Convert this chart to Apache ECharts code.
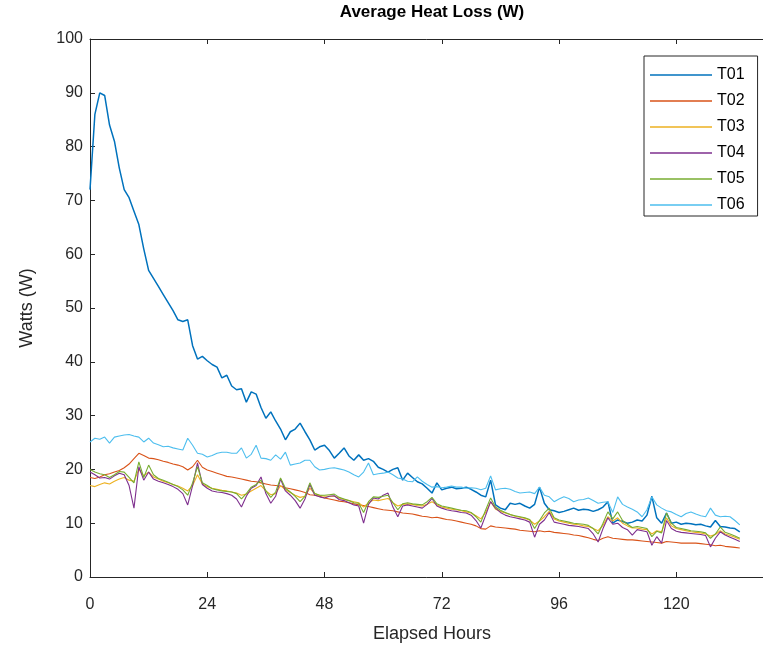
<!DOCTYPE html>
<html>
<head>
<meta charset="utf-8">
<script src="https://cdn.jsdelivr.net/npm/echarts@6/dist/echarts.min.js"></script>
<style>
html,body{margin:0;padding:0;background:#fff;}
#chart{width:763px;height:646px;}
</style>
</head>
<body>
<div id="chart"></div>
<script>
const hours = [0,1,2,3,4,5,6,7,8,9,10,11,12,13,14,15,16,17,18,19,20,21,22,23,24,25,26,27,28,29,30,31,32,33,34,35,36,37,38,39,40,41,42,43,44,45,46,47,48,49,50,51,52,53,54,55,56,57,58,59,60,61,62,63,64,65,66,67,68,69,70,71,72,73,74,75,76,77,78,79,80,81,82,83,84,85,86,87,88,89,90,91,92,93,94,95,96,97,98,99,100,101,102,103,104,105,106,107,108,109,110,111,112,113,114,115,116,117,118,119,120,121,122,123,124,125,126,127,128,129,130,131,132,133];

const seriesNames = ['T01','T02','T03','T04','T05','T06'];

const T01 = [72,86,90,89.5,84,81,76,72,70.5,68,65.5,61,57,55.5,54,52.5,51,49.5,47.8,47.5,47.8,43,40.5,41,40.2,39.5,39,37,37.5,35.5,34.8,35,32.5,34.4,34,31.5,29.5,30.7,29,27.5,25.5,27,27.5,28.6,27,25.5,23.6,24.2,24.5,23.5,22.1,23,24,22.5,21.7,22.7,21.7,22,21.5,20.4,20,19.5,20,20.3,18,19.3,18.5,17.7,17.3,16.5,15.6,17.5,16.2,16.5,16.7,16.4,16.5,16.7,16.3,15.8,15.2,14.9,18,13.4,12.8,12.5,13.7,13.5,13.7,13.2,12.8,13.5,16.7,13.7,12.5,12.3,12,12.2,12.5,12.8,12.4,12.6,12.5,12.2,12.5,13,14,10,10.6,10.3,10,10.2,10.6,10.4,11.5,15,11,10,11.9,10,10.2,9.8,10,9.9,9.7,9.8,9.5,9.3,10.5,9.4,9.3,9.1,9,8.4];

const T02 = [18.5,18.3,18.6,19,19.2,19.5,19.8,20.3,21,22,23,22.6,22.1,22,21.8,21.5,21.3,21,20.8,20.5,19.9,20.5,21.7,20.4,19.9,19.6,19.3,19,18.7,18.6,18.4,18.2,18,17.8,17.7,17.5,17.3,17.1,17,16.9,16.6,16.4,16.2,16,15.7,15.3,15.2,15,14.7,14.5,14.3,14.1,14,13.8,13.6,13.4,13.3,13.1,12.9,12.7,12.5,12.4,12.3,12.1,11.9,11.8,11.7,11.5,11.3,11.2,11,11.1,10.9,10.7,10.6,10.4,10.2,10,9.8,9.5,9,8.9,9.5,9.3,9.2,9.1,9,8.9,8.7,8.6,8.5,8.4,8.6,8.4,8.5,8.3,8.2,8.1,8,7.8,7.7,7.5,7.3,7,6.8,7.2,7.5,7.2,7.1,7,6.9,6.9,6.8,6.7,6.6,6.5,6.4,6.3,6.6,6.5,6.4,6.3,6.3,6.3,6.3,6.2,6.1,6,5.8,5.9,5.7,5.6,5.5,5.4];

const T03 = [17,16.8,17.2,17.5,17.3,17.8,18.2,18.5,18,17.8,20,18.8,19.5,18.6,18.2,17.8,17.5,17.2,16.9,16.5,16,17,19,17.3,16.8,16.5,16.3,16.1,16,15.8,15.6,15.2,15.4,16,16.5,17,16,15.3,15.5,17,16.2,15.7,15.2,14.8,15,16.5,15.5,15.2,15,15,15,14.7,14.4,14.2,14,13.8,13,13.8,14.3,14.2,14.4,14.6,13.8,13.2,13.5,13.6,13.5,13.3,13.2,13.5,14,13.4,13,12.8,12.6,12.5,12.3,12.1,11.9,11.4,10.8,12,14,12.6,12.2,11.9,11.6,11.3,11.1,10.9,10.6,9.8,10.4,11.2,12.2,10.8,10.4,10.2,10,9.8,9.7,9.5,9.4,9,8.6,9.6,11.2,10.4,11,10,9.5,9.1,9.1,8.9,8.8,8,8.6,8.4,11,9.5,9,8.8,8.6,8.4,8.3,8.2,8,7.6,7.9,8.6,8,7.7,7.4,7];

const T04 = [19.5,19,18.4,18.5,18.2,18.8,19.3,19,17,12.8,20.5,18,19.5,18.2,17.8,17.5,17.2,16.8,16.3,15.5,13.4,17,21.2,17.2,16.5,16,15.8,15.7,15.5,15.2,14.5,13,15,16.5,17,18.6,15.5,13.7,15,18.2,16,15.2,14.2,12.8,14.5,17.2,15.2,14.9,14.7,15,15.1,14.4,14.2,13.8,13.4,13.2,10,13.5,14.7,14.5,15.2,15.6,13,11.2,13.2,13.4,13.2,13,12.8,13.5,14.6,13.2,12.8,12.5,12.3,12.2,12,11.9,11.5,10.5,9.1,11.5,14,12.8,12,11.5,11.2,11,10.8,10.6,10.2,7.4,9.8,10.6,12,10.2,10,9.8,9.6,9.5,9.4,9.2,9,8,6.5,9,11,9.8,10,9.2,8.8,7.8,8.8,8.6,8.4,5.9,7.5,6.3,10.5,9,8.5,8.3,8.2,8.1,8,7.9,7.7,5.6,7.2,8.4,7.8,7.4,7,6.6];

const T05 = [20,19.5,19.2,19,18.5,19,19.6,19.5,18.5,17.5,21.4,18.5,20.8,19,18.3,18,17.6,17.2,16.8,16.2,15.2,17.5,20.5,17.5,17,16.4,16.2,16,15.9,15.8,15.5,14.5,15.5,16.7,17.2,18,16,14.8,15.8,18.4,16.5,15.8,15,14,15,17.5,15.5,15.2,15.2,15.3,15.4,14.8,14.5,14.2,13.8,13.7,12,14,14.9,14.8,15,15.2,13.8,12.5,13.6,13.8,13.6,13.5,13.4,14,14.8,13.6,13.2,13,12.8,12.6,12.4,12.3,12,11.2,10.2,12.5,14.7,13,12.4,12,11.6,11.4,11.2,11,10.7,9,10.5,11.9,12.8,11,10.6,10.4,10.2,10,9.9,9.8,9.6,9,8,10,12.1,10.8,12.1,10.5,9.8,9.2,9.4,9.2,9,7.5,8.5,8.2,11.9,10,9.2,9,8.8,8.6,8.5,8.4,8.2,7.2,8,9.3,8.3,8,7.6,7.2];

const T06 = [25.1,25.8,25.6,26,24.9,26,26.2,26.4,26.5,26.2,26,25.1,25.8,24.9,24.6,24.2,24.3,24,23.8,23.6,25.8,24.5,23,22.8,22.3,22.6,23,23.2,23.2,23,23,24,22.1,22.8,24.5,22.1,22,21.7,22.7,21.9,23.2,20.8,21,21.2,21.7,21.7,20.5,19.9,20,20.2,20.3,20.1,19.9,19.5,19,18.6,19.5,21.2,19,19.2,19.3,19.5,19,18.4,18.2,17.8,17.7,18.6,17.8,17.2,16.7,16.8,16.6,16.7,16.9,16.7,16.7,16.5,16.6,16.5,16.2,16.5,18.8,16.2,16.4,16.5,16.3,15.9,15.6,15.7,15.8,15.5,16.7,15.2,14.9,14,14.5,14.9,14.6,14,14.3,14.4,14.7,14.2,13.7,13.9,14,12,14.9,13.5,13,12.6,12.1,11.2,12.5,14.9,13.4,12.8,12.3,12.1,11.6,11.2,11.8,12.1,11.7,11.4,11.2,12.8,11.5,11.2,11.3,11.2,10.5,9.7];

const yTicks = [0,10,20,30,40,50,60,70,80,90,100];
const xTicks = [0,24,48,72,96,120];

const colors = ['#0072BD','#D95319','#EDB120','#7E2F8E','#77AC30','#4DBEEE'];
const allValues = [T01, T02, T03, T04, T05, T06];

const axisColor = '#262626';
const font = '"Liberation Sans", Arial, Helvetica, sans-serif';

const chart = echarts.init(document.getElementById('chart'), null, {renderer: 'canvas'});

const series = seriesNames.map((name, i) => ({
  name: name,
  type: 'line',
  xAxisIndex: 0,
  yAxisIndex: 0,
  symbol: 'none',
  showSymbol: false,
  smooth: false,
  animation: false,
  lineStyle: {color: colors[i], width: i === 0 ? 1.5 : 1.1},
  itemStyle: {color: colors[i]},
  data: hours.map((h, k) => [h, allValues[i][k]])
}));

const option = {
  backgroundColor: '#ffffff',
  animation: false,
  title: {
    text: 'Average Heat Loss (W)',
    left: 432,
    top: 4,
    padding: 0,
    textAlign: 'center',
    textStyle: {fontFamily: font, fontSize: 17, fontWeight: 'bold', color: '#000'}
  },
  legend: {
    data: seriesNames,
    orient: 'vertical',
    left: 644,
    top: 56,
    padding: [11, 13, 3, 6],
    icon: 'rect',
    itemWidth: 62,
    itemHeight: 1.3,
    itemGap: 10,
    borderColor: axisColor,
    borderWidth: 1,
    borderRadius: 0,
    backgroundColor: '#fff',
    textStyle: {fontFamily: font, fontSize: 16, lineHeight: 16, color: '#000'}
  },
  grid: {left: 90, top: 39, width: 684, bottom: 69, containLabel: false, outerBoundsMode: 'none'},
  xAxis: [{
    type: 'value',
    min: 0,
    max: 140,
    interval: 24,
    position: 'bottom',
    name: 'Elapsed Hours',
    nameLocation: 'middle',
    nameGap: 48,
    nameTextStyle: {fontFamily: font, fontSize: 18, color: '#262626'},
    axisLine: {show: true, onZero: false, lineStyle: {color: axisColor, width: 1}},
    axisTick: {show: true, inside: true, length: 5, lineStyle: {color: axisColor}},
    axisLabel: {show: true, margin: 20, fontFamily: font, fontSize: 16, color: '#262626',
      formatter: v => (xTicks.indexOf(v) >= 0 ? String(v) : '')},
    splitLine: {show: false}
  }, {
    type: 'value',
    min: 0,
    max: 140,
    interval: 24,
    position: 'top',
    axisLine: {show: true, onZero: false, lineStyle: {color: axisColor, width: 1}},
    axisTick: {show: true, inside: true, length: 5, lineStyle: {color: axisColor}},
    axisLabel: {show: false},
    splitLine: {show: false}
  }],
  yAxis: [{
    type: 'value',
    min: 0,
    max: 100,
    interval: 10,
    position: 'left',
    name: 'Watts (W)',
    nameLocation: 'middle',
    nameGap: 54,
    nameTextStyle: {fontFamily: font, fontSize: 18, color: '#262626'},
    axisLine: {show: true, onZero: false, lineStyle: {color: axisColor, width: 1}},
    axisTick: {show: true, inside: true, length: 5, lineStyle: {color: axisColor}},
    axisLabel: {show: true, margin: 7, fontFamily: font, fontSize: 16, color: '#262626',
      formatter: v => (yTicks.indexOf(v) >= 0 ? String(v) : '')},
    splitLine: {show: false}
  }],
  series: series
};

chart.setOption(option);
</script>
</body>
</html>
